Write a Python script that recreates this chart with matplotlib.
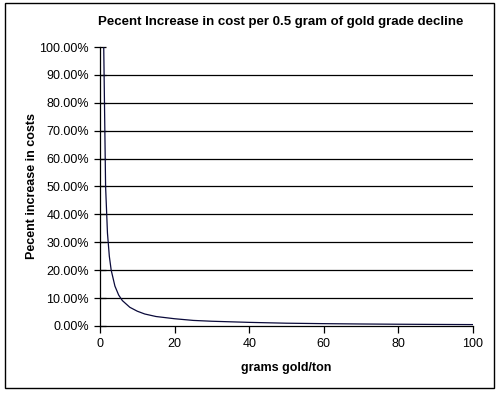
import matplotlib
matplotlib.use('Agg')
import matplotlib.pyplot as plt
from matplotlib.patches import Rectangle
from matplotlib.ticker import FuncFormatter

# grams gold per ton vs percent cost increase
grade = [1, 1.5, 2, 2.5, 3, 4, 5, 6, 8, 10, 12, 15, 20, 25, 30,
         40, 50, 60, 70, 80, 90, 100]
pctIncrease = [1.0, 0.50, 0.333, 0.25, 0.20, 0.143, 0.111, 0.091, 0.067,
               0.053, 0.043, 0.034, 0.026, 0.020, 0.017, 0.013, 0.010,
               0.0084, 0.0072, 0.0063, 0.0056, 0.005]

xTicks = [0, 20, 40, 60, 80, 100]
yTicks = [i / 10 for i in range(11)]

plt.rcParams['font.family'] = ['Liberation Sans', 'DejaVu Sans']

fig = plt.figure(figsize=(5.01, 3.95), dpi=100)
ax = fig.add_axes([0.1996, 0.1747, 0.7445, 0.7063])

ax.plot(grade, pctIncrease, color='#0a0a3a', lw=0.9, zorder=3)

ax.set_xlim(0, 100)
ax.set_ylim(0, 1.0)
ax.set_xticks(xTicks)
ax.set_yticks(yTicks)
ax.yaxis.set_major_formatter(FuncFormatter(lambda v, p: '{:.2f}%'.format(v * 100)))

# horizontal gridlines, none at the top
for v in yTicks[1:-1]:
    ax.axhline(v, color='black', lw=0.9, zorder=1)

for s in ['top', 'right']:
    ax.spines[s].set_visible(False)
for s in ['left', 'bottom']:
    ax.spines[s].set_linewidth(0.9)

ax.tick_params(axis='y', direction='inout', length=8, width=0.9, labelsize=9, pad=4)
ax.tick_params(axis='x', direction='out', length=5, width=0.9, labelsize=9, pad=4)

fig.text(281 / 501, 1 - 22 / 395,
         'Pecent Increase in cost per 0.5 gram of gold grade decline',
         fontsize=9.5, fontweight='bold', ha='center', va='center')
ax.set_ylabel('Pecent increase in costs', fontsize=9, fontweight='bold', labelpad=1)
ax.set_xlabel('grams gold/ton', fontsize=9, fontweight='bold', labelpad=8)

# chart border
fig.patches.append(Rectangle((5 / 501, 1 - 388 / 395), 489 / 501, 385 / 395,
                             transform=fig.transFigure, fill=False,
                             edgecolor='black', lw=1))

fig.savefig('out.png', dpi=100)
